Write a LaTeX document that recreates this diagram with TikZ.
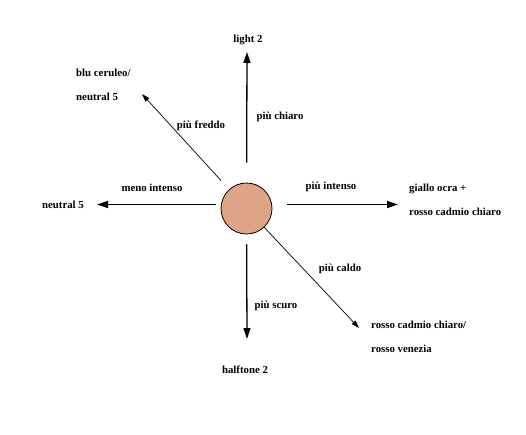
\documentclass[tikz,border=0pt]{standalone}
\usepackage{fontspec}
\setmainfont{Liberation Serif}
\usepackage{tikz}
\usetikzlibrary{arrows.meta, positioning}
\definecolor{colorSkin}{RGB}{222,164,136}
\tikzset{
  lbl/.style={font=\fontsize{10.8}{23.5}\selectfont\bfseries, inner sep=1pt, align=left},
  main/.style={-{Triangle[length=11pt,width=7pt]}, line width=1.3pt},
  thin/.style={-{Triangle[length=8pt,width=5pt]}, line width=0.7pt}
}

\begin{document}
\begin{tikzpicture}[x=1pt, y=-1pt]
\useasboundingbox[fill=white] (0,0) rectangle (526,434);
\node[circle, draw, fill=colorSkin, minimum size=51pt, inner sep=0pt, line width=0.8pt] (c) at (246.5,208.5) {};
% end points
\coordinate (tipU) at (247,52);
\coordinate (tipD) at (247,339);
\coordinate (tipL) at (97,204.5);
\coordinate (tipR) at (398,204.5);
\coordinate (tipUL) at (142,94);
\coordinate (tipDR) at (359,328);
% texts
\node[lbl] (light) at (248,40) {light 2};
\node[lbl] (half) at (245,370) {halftone 2};
\node[lbl] (neuL) at (63,205) {neutral 5};
\node[lbl, anchor=west] (giallo) at (408,200) {giallo ocra +\\rosso cadmio chiaro};
\node[lbl, anchor=west] (blu) at (75,85) {blu ceruleo/\\neutral 5};
\node[lbl, anchor=west] (rosso) at (370,337) {rosso cadmio chiaro/\\rosso venezia};
\node[lbl] (chiaro) at (280,117) {più chiaro};
\node[lbl] (freddo) at (201,126) {più freddo};
\node[lbl] (menoint) at (152,188) {meno intenso};
\node[lbl] (piuint) at (331,187) {più intenso};
\node[lbl] (caldo) at (340,269) {più caldo};
\node[lbl] (scuro) at (276,306) {più scuro};
% arrows
\draw[main, shorten <=20pt] (c) -- (tipU);
\draw[main, shorten <=10pt] (c) -- (tipD);
\draw[main] ([xshift=-5pt]c.west |- tipL) -- (tipL);
\draw[main] ([xshift=15pt]c.east |- tipR) -- (tipR);
\draw[thin, shorten <=12pt] (c) -- (tipUL);
\draw[thin] (c) -- (tipDR);
\end{tikzpicture}
\end{document}
